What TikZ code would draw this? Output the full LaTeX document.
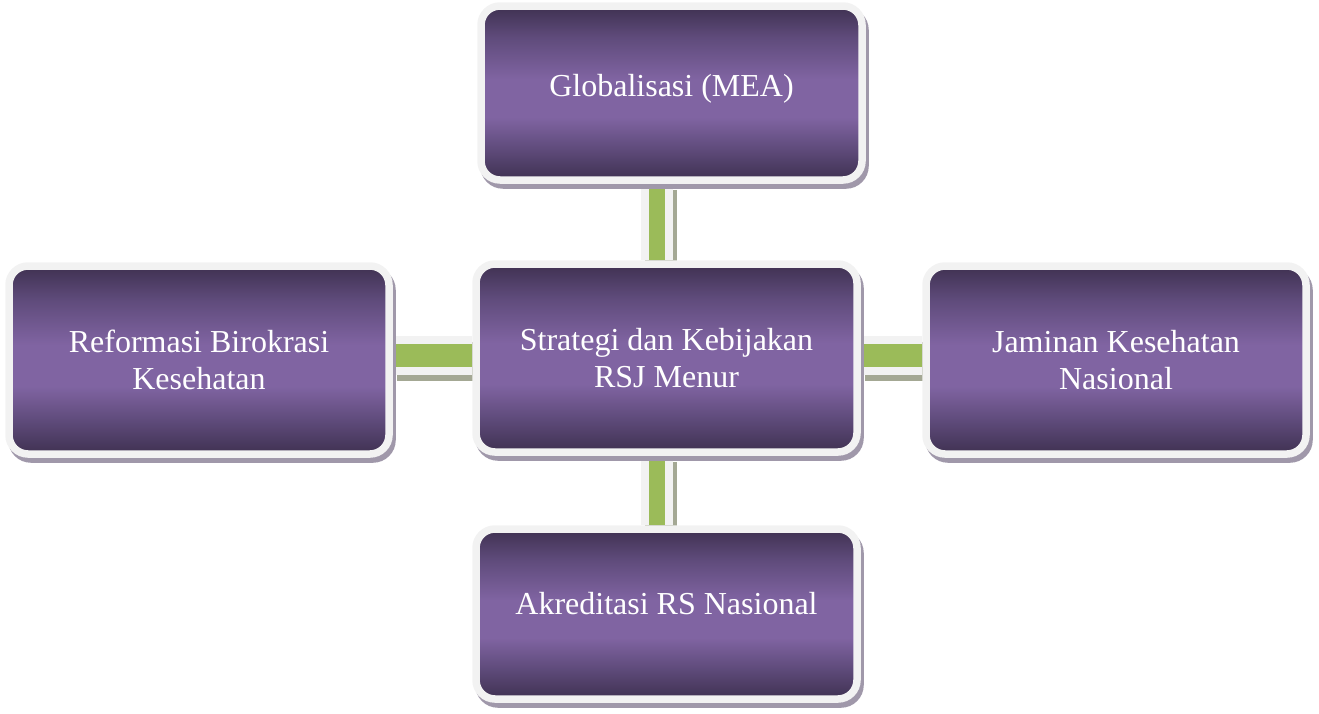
\documentclass[tikz,border=0pt]{standalone}
\usepackage{fontspec}
\setmainfont{Liberation Serif}
\usetikzlibrary{shadows,backgrounds}
\definecolor{pdark}{HTML}{3F3151}
\definecolor{pmid}{HTML}{5F4B7B}
\definecolor{plight}{HTML}{8064A2}
\definecolor{bordc}{HTML}{F2F2F2}
\definecolor{greenc}{HTML}{9BBB59}
\definecolor{bshadow}{HTML}{A098AA}
\definecolor{cshadow}{HTML}{A4A894}
\pgfdeclareverticalshading{purp}{100bp}{color(0bp)=(pdark); color(25bp)=(pdark); color(34bp)=(pmid); color(43bp)=(plight); color(54bp)=(plight); color(66bp)=(pmid); color(75bp)=(pdark); color(100bp)=(pdark)}
\tikzset{
  pbox/.style={rectangle, rounded corners=19pt, shading=purp, draw=bordc,
    line width=7.5pt, text=white, align=center, inner sep=0pt,
    minimum width=381pt,
    drop shadow={shadow xshift=3pt, shadow yshift=-5pt, fill=bshadow, draw=bshadow, line width=7.5pt, opacity=1}},
  connv/.style={draw=greenc, line width=16pt,
    preaction={draw=cshadow, line width=32pt, transform canvas={shift={(4pt,-6pt)}}},
    preaction={draw=bordc, line width=32pt}},
  connh/.style={draw=greenc, line width=23pt,
    preaction={draw=cshadow, line width=39pt, transform canvas={shift={(4pt,-6pt)}}},
    preaction={draw=bordc, line width=39pt}}
}
\begin{document}
\begin{tikzpicture}[x=1pt,y=-1pt,font=\fontsize{32}{37}\selectfont]
\useasboundingbox (0,0) rectangle (1319,713);
\node[pbox, minimum height=174pt, text depth=15pt] (glob) at (671.5,93) {Globalisasi (MEA)};
\node[pbox, minimum height=188pt] (strat) at (666.5,358) {Strategi dan Kebijakan\\RSJ Menur};
\node[pbox, minimum width=380pt, minimum height=188pt] (refo) at (199,360) {Reformasi Birokrasi\\Kesehatan};
\node[pbox, minimum width=380pt, minimum height=188pt] (jkn) at (1116,360) {Jaminan Kesehatan\\Nasional};
\node[pbox, minimum height=170pt, text depth=21pt] (akre) at (666.5,614) {Akreditasi RS Nasional};
\coordinate (vline) at (657,0);
\coordinate (hline) at (0,355.5);
\begin{scope}[on background layer]
\draw[connv] (glob.south -| vline) -- (strat.north -| vline);
\draw[connv] (strat.south -| vline) -- (akre.north -| vline);
\draw[connh] (refo.east |- hline) -- (strat.west |- hline);
\draw[connh] (strat.east |- hline) -- (jkn.west |- hline);
\end{scope}
\end{tikzpicture}
\end{document}
